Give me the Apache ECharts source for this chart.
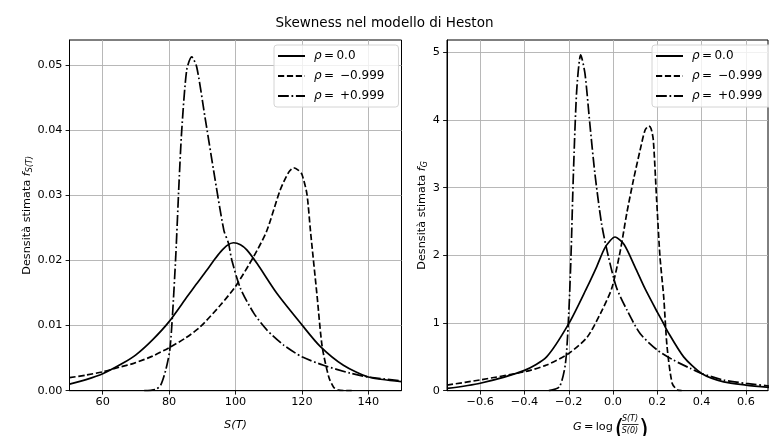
<!DOCTYPE html>
<html>
<head>
<meta charset="utf-8">
<script src="https://cdn.jsdelivr.net/npm/echarts@6/dist/echarts.min.js"></script>
<style>
html, body { margin: 0; padding: 0; background: #fff; }
#main { width: 769px; height: 436px; }
</style>
</head>
<body>
<div id="main"></div>
<script>
// etichette della legenda
var labels = ['ρ\u2009=\u20090.0', 'ρ\u2009=\u2002−0.999', 'ρ\u2009=\u2002+0.999'];

// densità di S(T)
var sX0 = [50, 55, 60, 66, 70, 75, 80, 85.4, 88, 91.4, 93.5, 95.5, 97.5, 99.4, 101.5, 103.4, 106.5, 112.5, 120, 125.5, 132.5, 140, 150];
var sY0 = [0.0010, 0.0017, 0.0026, 0.0042, 0.0055, 0.0078, 0.0106, 0.0144, 0.0162, 0.0185, 0.0200, 0.0213, 0.0223, 0.0227, 0.0224, 0.0216, 0.0195, 0.0149, 0.0101, 0.0068, 0.0039, 0.0021, 0.0014];
var sXm = [50, 55, 60, 65, 69.3, 75, 80, 85, 89.4, 95.4, 100, 105.5, 109.4, 113.4, 116, 117.5, 119, 120, 121.5, 122.6, 124.6, 126.1, 128.1, 129.6, 131, 135];
var sYm = [0.0020, 0.0024, 0.0029, 0.0036, 0.0042, 0.0053, 0.0066, 0.0081, 0.0098, 0.0131, 0.0160, 0.0206, 0.0245, 0.0307, 0.0335, 0.0342, 0.0338, 0.0332, 0.0302, 0.0244, 0.0144, 0.0068, 0.0021, 0.0005, 0.0001, 0];
var sXp = [72.5, 76, 77.5, 79, 80.2, 81, 82, 83, 83.8, 85.3, 86.8, 88.3, 90.8, 93.4, 96.5, 97.9, 98.9, 101.5, 105.5, 109.5, 114.5, 120, 126.5, 134.5, 140, 150];
var sYp = [0, 0.0002, 0.0009, 0.0032, 0.0062, 0.0114, 0.0206, 0.0320, 0.0399, 0.0492, 0.0512, 0.0497, 0.0420, 0.0338, 0.0246, 0.0226, 0.0200, 0.0157, 0.0119, 0.0093, 0.0070, 0.0052, 0.0039, 0.0027, 0.0021, 0.0015];

// densità di G = log(S(T)/S(0))
var gX0 = [-0.75, -0.6, -0.4, -0.3, -0.2, -0.117, -0.074, -0.035, 0.009, 0.05, 0.099, 0.144, 0.2, 0.227, 0.244, 0.319, 0.4, 0.5, 0.6, 0.705];
var gY0 = [0.033, 0.11, 0.30, 0.50, 0.99, 1.53, 1.83, 2.12, 2.27, 2.16, 1.83, 1.51, 1.16, 1.0, 0.89, 0.50, 0.255, 0.13, 0.083, 0.05];
var gXm = [-0.75, -0.6, -0.4, -0.3, -0.2, -0.117, -0.057, -0.006, 0.033, 0.062, 0.092, 0.122, 0.145, 0.162, 0.172, 0.182, 0.197, 0.212, 0.229, 0.244, 0.267, 0.29, 0.31];
var gYm = [0.083, 0.16, 0.28, 0.38, 0.55, 0.79, 1.14, 1.51, 2.07, 2.62, 3.11, 3.55, 3.85, 3.91, 3.87, 3.70, 2.82, 1.98, 1.38, 0.65, 0.11, 0.01, 0];
var gXp = [-0.29, -0.242, -0.215, -0.2, -0.19, -0.179, -0.164, -0.146, -0.127, -0.105, -0.082, -0.052, -0.021, 0.016, 0.063, 0.123, 0.2, 0.274, 0.349, 0.4, 0.5, 0.6, 0.705];
var gYp = [0, 0.06, 0.40, 1.14, 1.98, 3.21, 4.44, 4.96, 4.69, 3.95, 3.21, 2.47, 1.98, 1.52, 1.19, 0.84, 0.60, 0.45, 0.33, 0.255, 0.157, 0.108, 0.069];

// tick
var sTicks = [60, 80, 100, 120, 140];
var fsTicks = [0, 0.01, 0.02, 0.03, 0.04, 0.05];
var gTicks = [-0.6, -0.4, -0.2, 0.0, 0.2, 0.4, 0.6];
var fgTicks = [0, 1, 2, 3, 4, 5];

var FONT = 'DejaVu Sans';
var FS = 11.25;
var LW = 1.7;
var styles = ['solid', [6.2, 2.7], [10.8, 2.7, 1.7, 2.7]];

function pairs(xs, ys) {
    return xs.map(function (x, i) { return [x, ys[i]]; });
}
function minus(v) {
    return String(v).replace('-', '\u2212');
}

function makeAxis(grid, min, max, ticks, fmt, isY, name, gap) {
    return {
        type: 'value', gridIndex: grid, min: min, max: max,
        name: name, nameLocation: 'middle', nameGap: gap,
        nameRotate: isY ? 90 : 0,
        nameTextStyle: {
            fontFamily: FONT, fontSize: FS, color: '#000',
            fontStyle: isY ? 'normal' : 'italic',
            rich: {
                f: { fontFamily: FONT, fontSize: FS, fontStyle: 'italic', color: '#000' },
                s: { fontFamily: FONT, fontSize: 8, fontStyle: 'italic', color: '#000', verticalAlign: 'bottom', padding: [5, 0, 0, 0] }
            }
        },
        axisLine: { show: true, onZero: false, lineStyle: { color: '#000', width: 1 } },
        axisTick: { show: true, length: 3.9, customValues: ticks, lineStyle: { color: '#000', width: 0.9 } },
        axisLabel: {
            customValues: ticks, margin: isY ? 7 : 6,
            fontFamily: FONT, fontSize: FS, color: '#000',
            formatter: fmt
        },
        splitLine: { show: true, lineStyle: { color: '#b0b0b0', width: 0.9 } }
    };
}

var series = [];
function addLines(sets, axis) {
    sets.forEach(function (d, i) {
        series.push({
            name: labels[i], type: 'line', xAxisIndex: axis, yAxisIndex: axis,
            data: pairs(d[0], d[1]),
            symbol: 'circle', showSymbol: false, smooth: 0.25,
            lineStyle: { color: '#000', width: LW, type: styles[i] }, itemStyle: { color: '#000' }
        });
    });
}
addLines([[sX0, sY0], [sXm, sYm], [sXp, sYp]], 0);
addLines([[gX0, gY0], [gXm, gYm], [gXp, gYp]], 1);

function makeLegend(left) {
    return {
        data: labels, orient: 'vertical', left: left, top: 45,
        padding: [5, 14, 5, 3], itemGap: 8, itemWidth: 27, itemHeight: 14,
        backgroundColor: 'rgba(255,255,255,0.8)', borderColor: '#d4d4d4', borderWidth: 1, borderRadius: 3,
        selectedMode: false,
        itemStyle: { opacity: 0 },
        formatter: function (n) { return n.replace('ρ', '{i|ρ}'); },
        textStyle: {
            fontFamily: FONT, fontSize: 12, color: '#000', padding: [0, 0, 0, 4],
            rich: { i: { fontFamily: FONT, fontSize: 12, fontStyle: 'italic', color: '#000' } }
        }
    };
}

var myChart = echarts.init(document.getElementById('main'), null, { renderer: 'canvas' });
myChart.setOption({
    animation: false,
    backgroundColor: '#fff',
    title: {
        text: 'Skewness nel modello di Heston', left: 'center', top: 11,
        textStyle: { fontFamily: FONT, fontSize: 13.5, fontWeight: 'normal', color: '#000' }
    },
    legend: [makeLegend(274), makeLegend(652)],
    grid: [
        { left: 69.5, top: 40, width: 332, height: 350.7, show: true, borderColor: '#000', borderWidth: 1, containLabel: false },
        { left: 447, top: 40, width: 321, height: 350.7, show: true, borderColor: '#000', borderWidth: 1, containLabel: false }
    ],
    xAxis: [
        makeAxis(0, 50, 150, sTicks, function (v) { return String(v); }, false, 'S(T)', 29),
        makeAxis(1, -0.75, 0.7, gTicks, function (v) { return minus(v.toFixed(1)); }, false, '', 24)
    ],
    yAxis: [
        makeAxis(0, 0, 0.0538, fsTicks, function (v) { return v.toFixed(2); }, true, 'Desnsità stimata {f|f}{s|S(T)}', 34),
        makeAxis(1, 0, 5.18, fgTicks, function (v) { return String(v); }, true, 'Desnsità stimata {f|f}{s|G}', 8)
    ],
    graphic: [
        { type: 'text', x: 573, y: 427, style: {
            text: '{i|G}\u2009=\u2009log', fill: '#000', font: FS + 'px "' + FONT + '"', textAlign: 'left', textVerticalAlign: 'middle',
            rich: { i: { fontFamily: FONT, fontSize: FS, fontStyle: 'italic', fill: '#000' } } } },
        { type: 'text', x: 614.5, y: 430, style: { text: '(', fill: '#000', font: '25px "' + FONT + '"', textAlign: 'left', textVerticalAlign: 'middle' } },
        { type: 'text', x: 630, y: 419, style: { text: 'S(T)', fill: '#000', font: 'italic 8px "' + FONT + '"', textAlign: 'center', textVerticalAlign: 'middle' } },
        { type: 'line', shape: { x1: 622, y1: 424.5, x2: 638.5, y2: 424.5 }, style: { stroke: '#000', lineWidth: 0.8 } },
        { type: 'text', x: 630, y: 431, style: { text: 'S(0)', fill: '#000', font: 'italic 8px "' + FONT + '"', textAlign: 'center', textVerticalAlign: 'middle' } },
        { type: 'text', x: 639, y: 430, style: { text: ')', fill: '#000', font: '25px "' + FONT + '"', textAlign: 'left', textVerticalAlign: 'middle' } }
    ],
    series: series
});
</script>
</body>
</html>
